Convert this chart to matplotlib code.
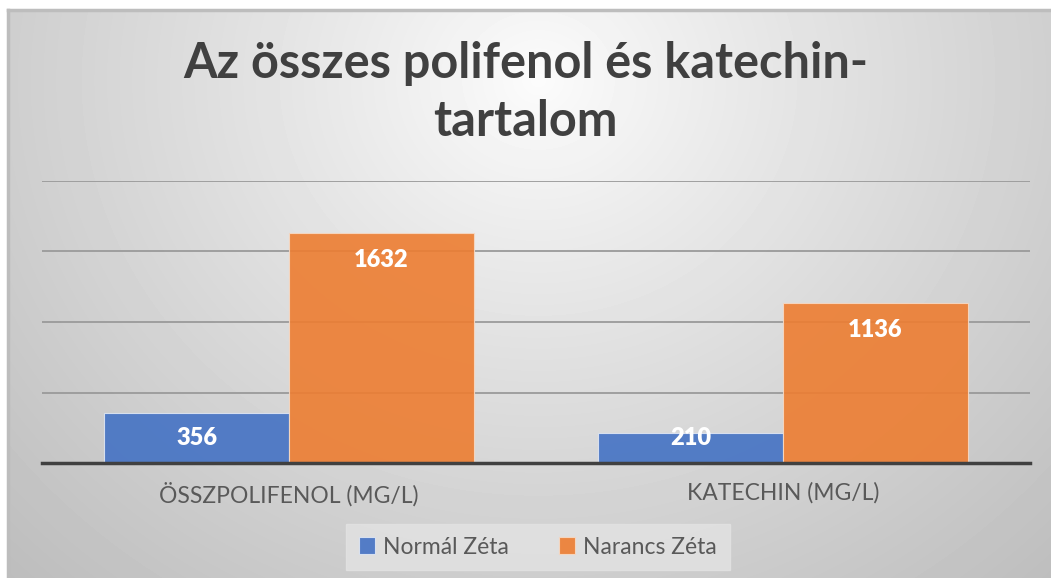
import numpy as np
import matplotlib.pyplot as plt

categories = ["ÖSSZPOLIFENOL (MG/L)", "KATECHIN (MG/L)"]
series_names = ["Normál Zéta", "Narancs Zéta"]
normal = [356, 210]
narancs = [1632, 1136]
colors = ["#4472C4", "#ED7D31"]

plt.rcParams['font.family'] = ['Lato', 'DejaVu Sans']

W, H = 1051, 578
fig = plt.figure(figsize=(W / 100, H / 100), dpi=100)
fig.patch.set_facecolor("white")

# radial grey background of the chart area
bg = fig.add_axes([8 / W, 0, 1 - 8 / W, 1 - 10 / H], zorder=-2)
yy, xx = np.mgrid[0:568, 0:1043]
d = np.sqrt((xx - 530) ** 2 + ((yy - 70) * 1.1) ** 2)
v = 252 - 60 * (d / 720) ** 0.9
bg.imshow(v, cmap="gray", vmin=0, vmax=255, aspect="auto", interpolation="bilinear")
bg.set_axis_off()
# frame line round the chart area
frame = fig.add_axes([8 / W, 0, 1 - 8 / W, 1 - 10 / H], zorder=-1)
frame.patch.set_visible(False)
frame.set_xticks([])
frame.set_yticks([])
for s in ["left", "top"]:
    frame.spines[s].set_color("#bdbdbd")
    frame.spines[s].set_linewidth(2.5)
for s in ["right", "bottom"]:
    frame.spines[s].set_visible(False)

ax = fig.add_axes([42 / W, 115 / H, 988 / W, 282 / H])
ax.patch.set_visible(False)

x = np.arange(len(categories))
w = 0.374
b1 = ax.bar(x - w / 2, normal, w, color=colors[0], alpha=0.9,
            edgecolor="#dfe6f3", linewidth=0.8, zorder=2, label=series_names[0])
b2 = ax.bar(x + w / 2, narancs, w, color=colors[1], alpha=0.9,
            edgecolor="#f6d9c4", linewidth=0.8, zorder=2, label=series_names[1])

for xs, vals in [(x - w / 2, normal), (x + w / 2, narancs)]:
    for xi, val in zip(xs, vals):
        ax.text(xi, max(val - 190, 180), str(val), ha="center", va="center",
                color="white", fontsize=17, fontweight="heavy", zorder=3)

ax.set_xlim(-0.5, 1.5)
ax.set_ylim(0, 2000)
ax.set_yticks([0, 500, 1000, 1500, 2000])
ax.yaxis.grid(True, color="#9a9a9a", linewidth=1.3, zorder=1)
ax.set_axisbelow(True)
ax.tick_params(axis="y", left=False, labelleft=False)
ax.tick_params(axis="x", bottom=False, labelsize=16.5, labelcolor="#595959", pad=10)
ax.set_xticks(x)
ax.set_xticklabels(categories)
for s in ["left", "right", "top"]:
    ax.spines[s].set_visible(False)
ax.spines["bottom"].set_color("#404040")
ax.spines["bottom"].set_linewidth(2.5)
ax.spines["bottom"].set_zorder(4)

fig.text(0.5, 1 - 64 / H, "Az összes polifenol és katechin-", ha="center", va="center",
         fontsize=35, fontweight="bold", color="#404040")
fig.text(0.5, 1 - 121 / H, "tartalom", ha="center", va="center",
         fontsize=35, fontweight="bold", color="#404040")

leg = fig.legend(handles=[b1, b2], labels=series_names, loc="center",
                 bbox_to_anchor=(538 / W, 1 - 547 / H), ncol=2, frameon=True,
                 fontsize=16.5, handlelength=0.7, handleheight=0.7, columnspacing=2.2,
                 borderpad=0.55, handletextpad=0.35)
leg.get_frame().set_facecolor("#e3e3e3")
leg.get_frame().set_edgecolor("#e3e3e3")
leg.get_frame().set_boxstyle("square", pad=0)
for t in leg.get_texts():
    t.set_color("#595959")

fig.savefig("out.png", dpi=100)
